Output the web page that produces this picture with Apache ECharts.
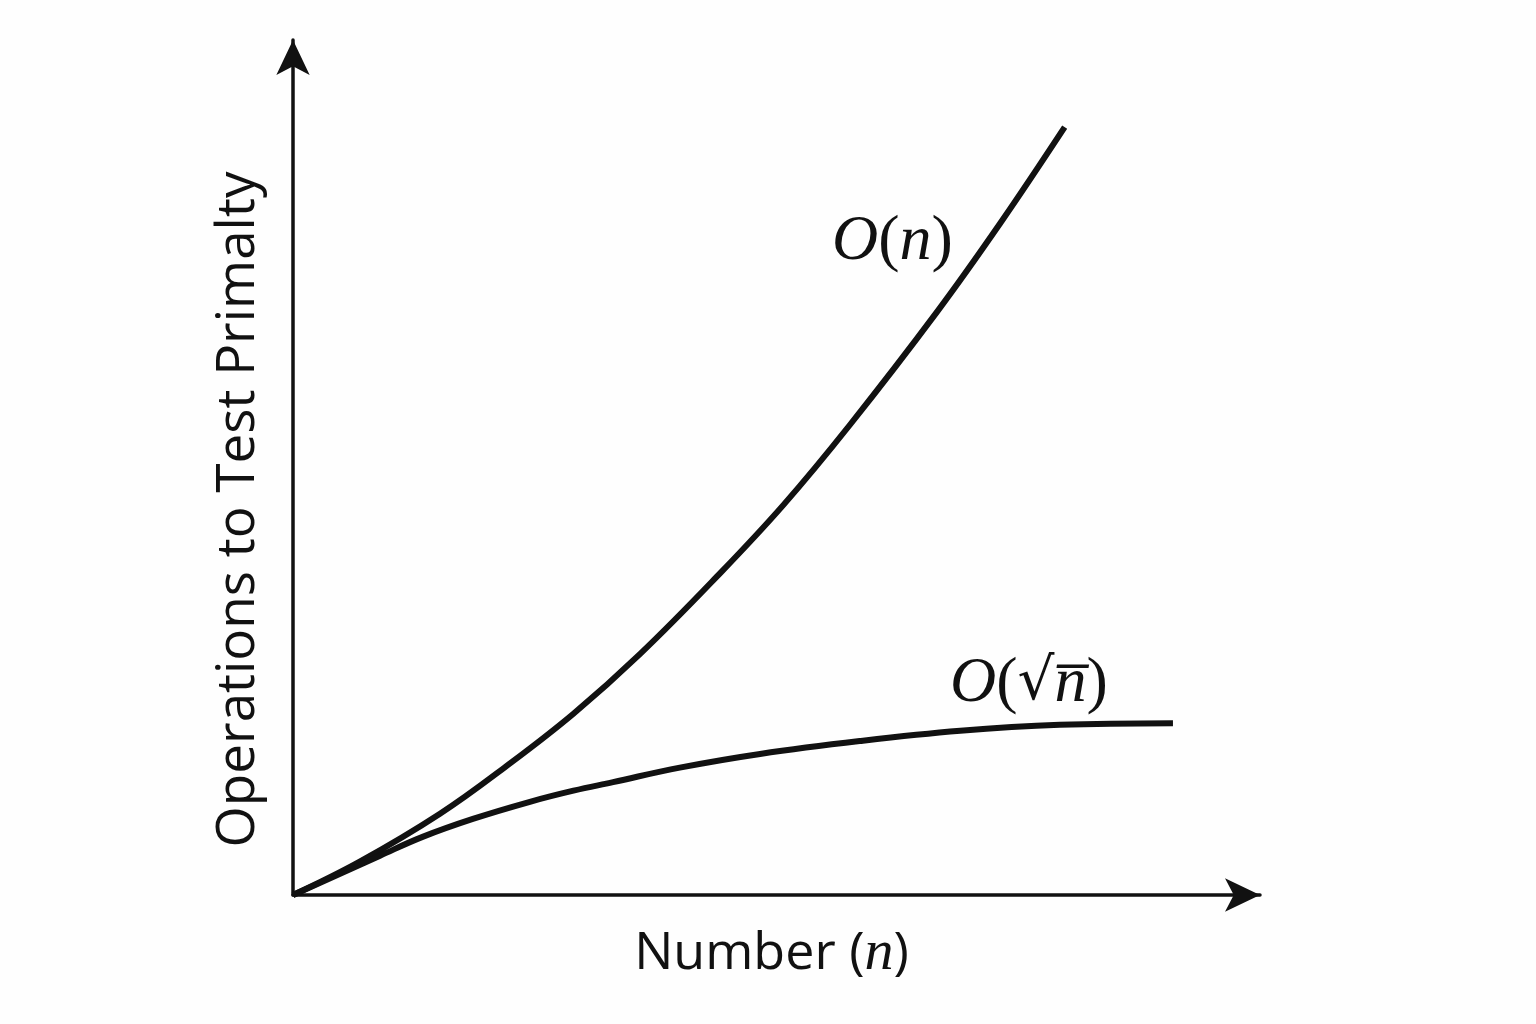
<!DOCTYPE html>
<html>
<head>
<meta charset="utf-8">
<script src="https://cdn.jsdelivr.net/npm/echarts@6/dist/echarts.min.js"></script>
<style>
html,body{margin:0;padding:0;background:#fefefe;}
#chart{width:1536px;height:1024px;}
</style>
</head>
<body>
<div id="chart"></div>
<script>
// Data (arbitrary units: x = number n, y = operations)
const linearX = [0, 6.9, 15.2, 22.1, 29.0, 35.9, 43.8, 50.7, 57.6, 66.6, 73.1, 79.8];
const linearY = [0, 3.9, 9.5, 15.1, 21.2, 28.2, 37.2, 45.6, 55.0, 68.2, 78.5, 89.8];
const sqrtX = [0, 9.0, 13.4, 18.6, 24.5, 29.0, 33.1, 40.0, 48.3, 58.6, 69.0, 79.3, 91.0];
const sqrtY = [0, 4.6, 6.8, 8.9, 10.9, 12.2, 13.2, 14.9, 16.5, 18.0, 19.2, 19.9, 20.1];
const xAxisName = 'Number ';
const yAxisName = 'Operations to Test Primalty';

const pair = (xs, ys) => xs.map((x, i) => [x, ys[i]]);

const chart = echarts.init(document.getElementById('chart'));
const axisLine = {
  show: true,
  symbol: ['none', 'arrow'],
  symbolSize: [25, 35],
  lineStyle: { color: '#111', width: 3.5 }
};
chart.setOption({
  backgroundColor: '#fefefe',
  animation: false,
  grid: { left: 293, right: 276, top: 40, bottom: 129 },
  xAxis: {
    type: 'value', min: 0, max: 100,
    axisLine: axisLine,
    axisTick: { show: false }, axisLabel: { show: false }, splitLine: { show: false },
    name: '{a|' + xAxisName + '}{p|(}{n|n}{p|)}',
    nameLocation: 'middle',
    nameGap: 30,
    nameTextStyle: {
      padding: [0, 10, 0, 0],
      rich: {
        a: { fontFamily: 'Open Sans', fontSize: 52, color: '#111' },
        p: { fontFamily: 'Open Sans', fontSize: 52, color: '#111' },
        n: { fontFamily: 'Liberation Serif', fontStyle: 'italic', fontSize: 58, color: '#111' }
      }
    }
  },
  yAxis: {
    type: 'value', min: 0, max: 100,
    axisLine: axisLine,
    axisTick: { show: false }, axisLabel: { show: false }, splitLine: { show: false },
    name: yAxisName,
    nameLocation: 'middle',
    nameRotate: 90,
    nameGap: 28,
    nameTextStyle: { fontFamily: 'Open Sans', fontSize: 53, color: '#111', padding: [0, 84, 0, 0] }
  },
  series: [
    {
      name: 'O(n)', type: 'line', data: pair(linearX, linearY),
      smooth: 0.4, showSymbol: false, symbol: 'none',
      lineStyle: { color: '#111', width: 6 }
    },
    {
      name: 'O(sqrt n)', type: 'line', data: pair(sqrtX, sqrtY),
      smooth: 0.4, showSymbol: false, symbol: 'none',
      lineStyle: { color: '#111', width: 6 }
    }
  ],
  graphic: [
    {
      type: 'text', left: 832, top: 210,
      style: {
        text: '{i|O}{p|(}{i|n}{p|)}',
        rich: {
          i: { fontFamily: 'Liberation Serif', fontStyle: 'italic', fontSize: 64, fill: '#111' },
          p: { fontFamily: 'Liberation Serif', fontSize: 64, fill: '#111' }
        }
      }
    },
    {
      type: 'text', left: 950, top: 652,
      style: {
        text: '{i|O}{p|(}{r|\u221A}{i|n\u0305}{p|)}',
        rich: {
          i: { fontFamily: 'Liberation Serif', fontStyle: 'italic', fontSize: 64, fill: '#111' },
          p: { fontFamily: 'Liberation Serif', fontSize: 64, fill: '#111' },
          r: { fontFamily: 'DejaVu Serif', fontSize: 58, fill: '#111' }
        }
      }
    }
  ]
});
</script>
</body>
</html>
